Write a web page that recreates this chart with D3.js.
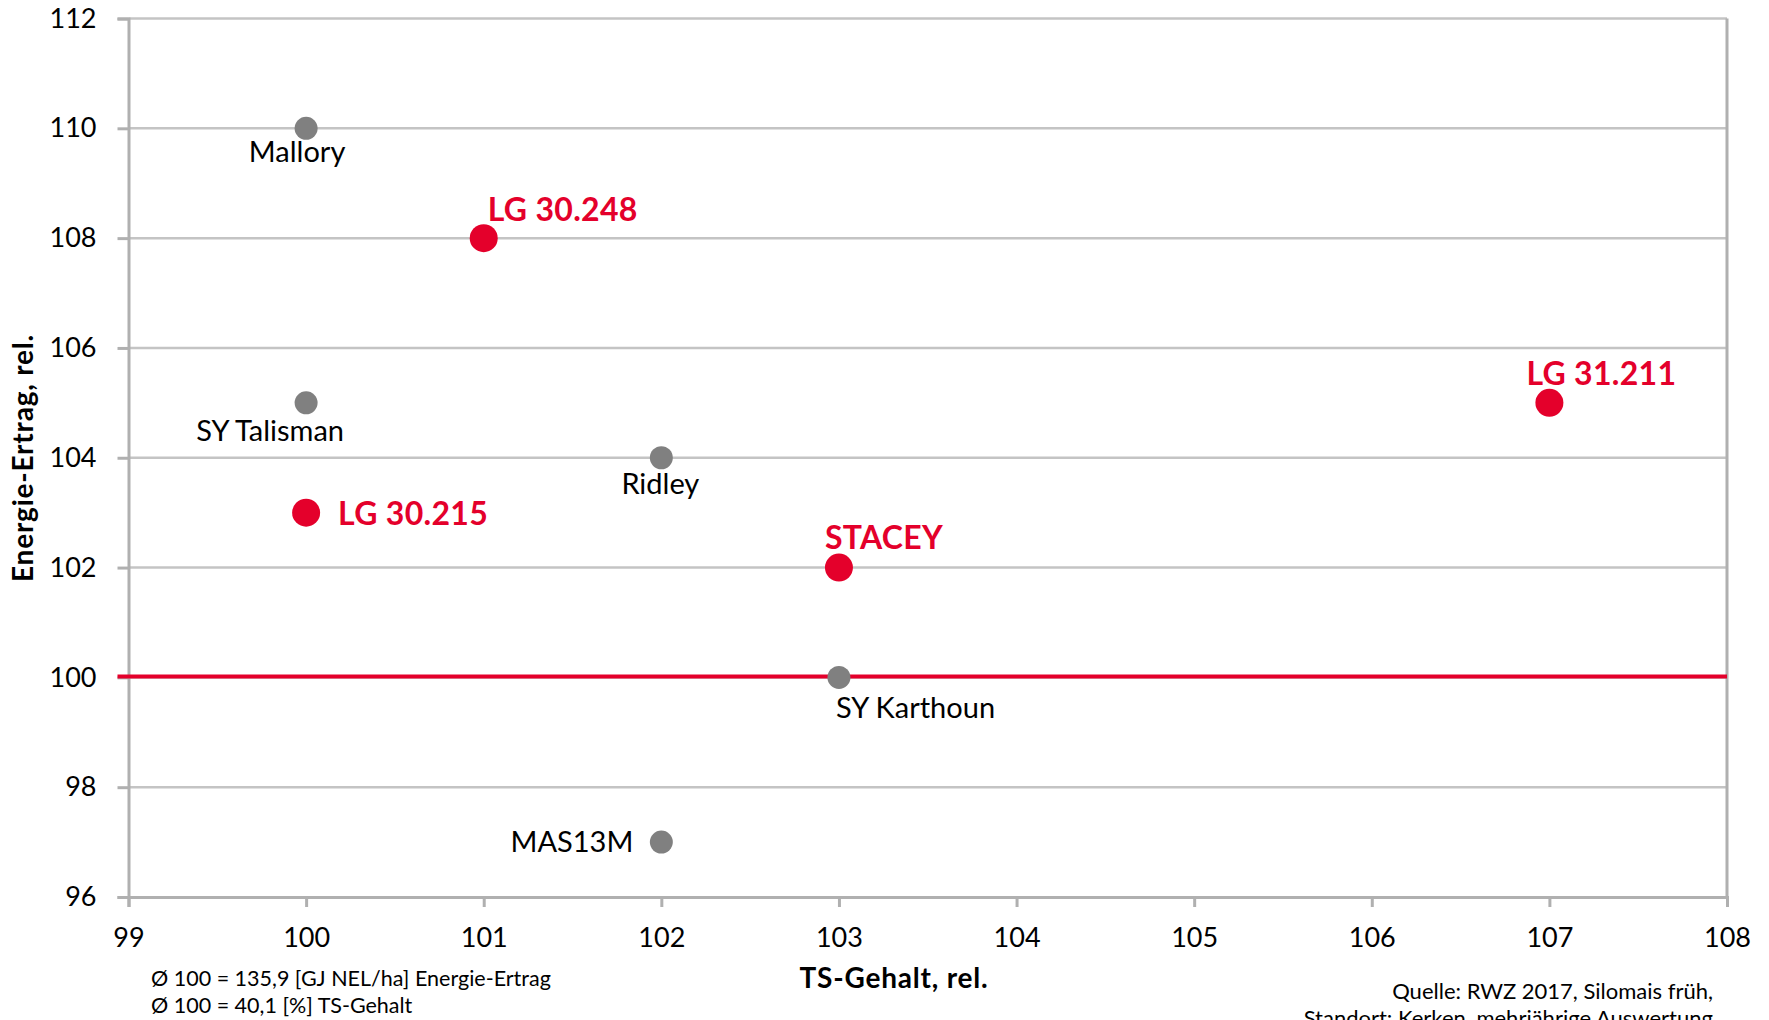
<!DOCTYPE html>
<html>
<head>
<meta charset="utf-8">
<script src="https://cdn.jsdelivr.net/npm/d3@7"></script>
<style>
	body { margin: 0; background: #fff; }
	svg { display: block; font-family: Lato, "Open Sans", sans-serif; }
</style>
</head>
<body>
<svg width="1769" height="1020"></svg>
<script>
// Sorten and their relative values
const names = ['Mallory', 'LG 30.248', 'SY Talisman', 'Ridley', 'LG 30.215', 'STACEY', 'LG 31.211', 'SY Karthoun', 'MAS13M'];
const tsGehalt = [100, 101, 100, 102, 100, 103, 107, 103, 102]; // x
const energieErtrag = [110, 108, 105, 104, 103, 102, 105, 100, 97]; // y
const ownVariety = [false, true, false, false, true, true, true, false, false];

const xTicks = [99, 100, 101, 102, 103, 104, 105, 106, 107, 108];
const yTicks = [96, 98, 100, 102, 104, 106, 108, 110, 112];
const referenceValue = 100;

const footLeft = ['Ø 100 = 135,9 [GJ NEL/ha] Energie-Ertrag', 'Ø 100 = 40,1 [%] TS-Gehalt'];
const footRight = ['Quelle: RWZ 2017, Silomais früh,', 'Standort: Kerken, mehrjährige Auswertung'];

// where each label sits relative to its dot
const labelPlace = {
	'Mallory':     { dx: -9,  dy: 34, anchor: 'middle' },
	'LG 30.248':   { dx: 4,   dy: -17, anchor: 'start' },
	'SY Talisman': { dx: -36, dy: 38, anchor: 'middle' },
	'Ridley':      { dx: -1,  dy: 36, anchor: 'middle' },
	'LG 30.215':   { dx: 32,  dy: 12, anchor: 'start' },
	'STACEY':      { dx: -14, dy: -19, anchor: 'start' },
	'LG 31.211':   { dx: -23, dy: -18, anchor: 'start' },
	'SY Karthoun': { dx: -3,  dy: 41, anchor: 'start' },
	'MAS13M':      { dx: -28, dy: 10, anchor: 'end' }
};

const red = '#e4002b';
const grey = '#808080';

let svg = d3.select('svg');

let x = d3.scaleLinear().domain([99, 108]).range([128.5, 1727]);
let y = d3.scaleLinear().domain([96, 112]).range([897, 18.5]);

let data = names.map((n, i) => ({ name: n, x: tsGehalt[i], y: energieErtrag[i], own: ownVariety[i] }));

// gridlines
svg.append('g')
	.selectAll('line')
	.data(yTicks.filter(d => d != 96))
	.enter()
	.append('line')
	.attr('x1', x(99)).attr('x2', x(108))
	.attr('y1', d => y(d)).attr('y2', d => y(d))
	.attr('stroke', '#c4c4c4')
	.attr('stroke-width', 2.5);

// right border of plot
svg.append('line')
	.attr('x1', x(108)).attr('x2', x(108))
	.attr('y1', y(112)).attr('y2', y(96))
	.attr('stroke', '#b0b0b0')
	.attr('stroke-width', 3);

// axes
let yAxis = svg.append('g')
	.attr('transform', 'translate(' + x(99) + ',0)')
	.call(d3.axisLeft(y).tickValues(yTicks).tickSize(11).tickPadding(21).tickFormat(d3.format('d')));
let xAxis = svg.append('g')
	.attr('transform', 'translate(0,' + y(96) + ')')
	.call(d3.axisBottom(x).tickValues(xTicks).tickSize(10).tickPadding(21).tickFormat(d3.format('d')));

[xAxis, yAxis].forEach(a => {
	a.select('.domain').attr('stroke', '#b0b0b0').attr('stroke-width', 3);
	a.selectAll('.tick line').attr('stroke', '#b0b0b0').attr('stroke-width', 3);
	a.selectAll('.tick text')
		.attr('fill', '#000')
		.style('font-family', 'Lato, sans-serif')
		.style('font-size', '27px');
});

// reference line at 100
svg.append('line')
	.attr('x1', x(99) - 11).attr('x2', x(108))
	.attr('y1', y(referenceValue) - 1).attr('y2', y(referenceValue) - 1)
	.attr('stroke', red)
	.attr('stroke-width', 4);

// dots
svg.append('g')
	.selectAll('circle')
	.data(data)
	.enter()
	.append('circle')
	.attr('cx', d => x(d.x))
	.attr('cy', d => y(d.y))
	.attr('r', d => d.own ? 14 : 11.5)
	.attr('fill', d => d.own ? red : grey);

// data labels
svg.append('g')
	.selectAll('text')
	.data(data)
	.enter()
	.append('text')
	.attr('x', d => x(d.x) + labelPlace[d.name].dx)
	.attr('y', d => y(d.y) + labelPlace[d.name].dy)
	.attr('text-anchor', d => labelPlace[d.name].anchor)
	.attr('fill', d => d.own ? red : '#000')
	.style('font-weight', d => d.own ? 'bold' : 'normal')
	.style('font-size', d => d.own ? '32px' : '29px')
	.style('letter-spacing', d => d.own ? '0.3px' : '0px')
	.text(d => d.name);

// axis titles
svg.append('text')
	.attr('x', 894).attr('y', 988)
	.attr('text-anchor', 'middle')
	.style('font-weight', 'bold')
	.style('font-size', '28px')
	.style('letter-spacing', '0.8px')
	.text('TS-Gehalt, rel.');

svg.append('text')
	.attr('transform', 'translate(33,458) rotate(-90)')
	.attr('text-anchor', 'middle')
	.style('font-weight', 'bold')
	.style('font-size', '28px')
	.style('letter-spacing', '0.8px')
	.text('Energie-Ertrag, rel.');

// footnotes
svg.append('g')
	.selectAll('text')
	.data(footLeft)
	.enter()
	.append('text')
	.attr('x', 151)
	.attr('y', (d, i) => 986 + i * 27)
	.style('font-size', '21.5px')
	.text(d => d);

svg.append('g')
	.selectAll('text')
	.data(footRight)
	.enter()
	.append('text')
	.attr('x', 1713)
	.attr('y', (d, i) => 999 + i * 27)
	.attr('text-anchor', 'end')
	.style('font-size', '22px')
	.text(d => d);
</script>
</body>
</html>
